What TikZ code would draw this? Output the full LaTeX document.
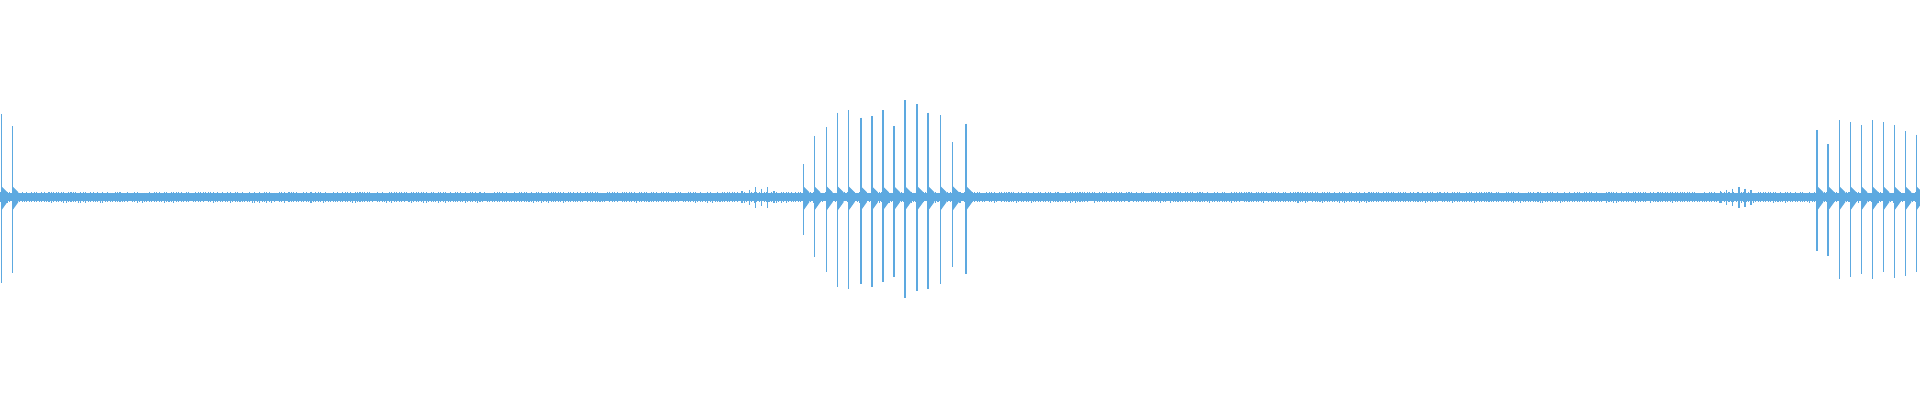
\documentclass[tikz,border=0pt]{standalone}
\definecolor{wave}{HTML}{5DA9E0}
\begin{document}
\begin{tikzpicture}[x=0.012245cm,y=-0.012245cm,spike/.style={draw=wave,line width=0.4pt},ring/.style={fill=wave}]
\useasboundingbox (0,0) rectangle (1568,326.67);
\fill[wave] (0,158) rectangle (1568,164);
\pgfmathsetseed{7}
\foreach \i in {0,2,...,1566}{
  \pgfmathsetmacro\a{157.5-rnd*1}
  \pgfmathsetmacro\b{164.5+rnd*1}
  \draw[wave,line width=0.3pt] (\i,\a) -- (\i,\b);
}
\foreach \x/\t/\b in {1/93/231,10/103/223,656/134/192,665/111/210,675/104/222,684/92/234,693/90/236,703/96/232,712/95/234,721/90/230,730/103/226,739/82/243,749/85/238,758/92/236,768/94/232,778/116/218,789/101/224,1484/106/205,1493/118/209,1502/98/228,1511/100/226,1520/102/224,1529/98/228,1538/100/222,1547/102/227,1556/107/225,1565/110/222}{
  \draw[spike] (\x,\t) -- (\x,\b);
  \fill[ring] (\x,152) -- (\x+5,157) -- (\x+5,165) -- (\x,172) -- cycle;
}
\foreach \x/\t/\b in {606/156/166,612/155/167,617/153/170,622/154/168,627/153/170,632/156/166,1405/156/166,1410/155/167,1415/154/168,1420/153/170,1425/154/169,1430/155/167}
  \draw[wave,line width=0.4pt] (\x,\t) -- (\x,\b);
\end{tikzpicture}
\end{document}
